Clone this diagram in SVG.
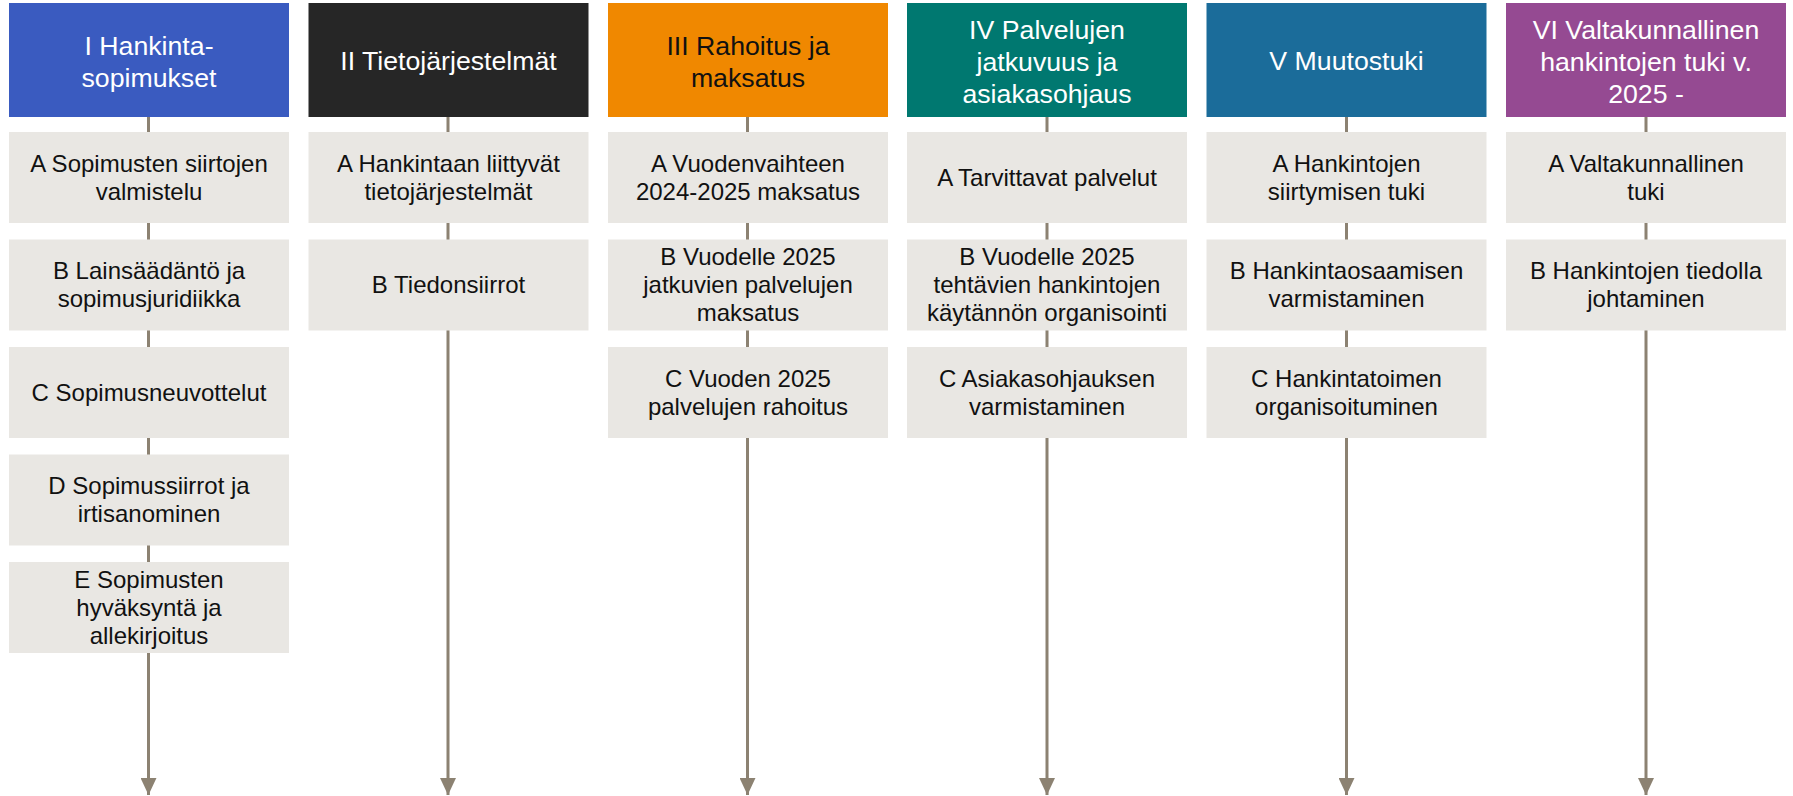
<svg xmlns="http://www.w3.org/2000/svg" width="1793" height="796" viewBox="0 0 1793 796">
<style>
.hdr{font-family:"Liberation Sans",Arial,sans-serif;font-size:26.7px;text-anchor:middle;fill:#ffffff}
.dark{fill:#111111}
.box{fill:#E9E7E3}
.bt{font-family:"Liberation Sans",Arial,sans-serif;font-size:24px;text-anchor:middle;fill:#111111}
.conn{stroke:#8C8272;stroke-width:3;fill:none}
</style>
<defs>
<marker id="arr" markerUnits="userSpaceOnUse" markerWidth="18" markerHeight="16" refX="17" refY="8" orient="auto">
<path d="M0,0 L17,8 L0,16 Z" fill="#8C8272"/>
</marker>
</defs>
<g id="connectors">
<line class="conn" x1="148.5" y1="117" x2="148.5" y2="795" marker-end="url(#arr)"/>
<line class="conn" x1="448" y1="117" x2="448" y2="795" marker-end="url(#arr)"/>
<line class="conn" x1="747.5" y1="117" x2="747.5" y2="795" marker-end="url(#arr)"/>
<line class="conn" x1="1047" y1="117" x2="1047" y2="795" marker-end="url(#arr)"/>
<line class="conn" x1="1346.5" y1="117" x2="1346.5" y2="795" marker-end="url(#arr)"/>
<line class="conn" x1="1646" y1="117" x2="1646" y2="795" marker-end="url(#arr)"/>
</g>
<g id="col1">
<g id="h1"><rect x="9" y="3" width="280" height="114" fill="#3A5BC0"/><text class="hdr" x="149"><tspan x="149" y="55">I Hankinta-</tspan><tspan x="149" y="87">sopimukset</tspan></text></g>
<g id="n1a"><rect class="box" x="9" y="132" width="280" height="91"/><text class="bt"><tspan x="149" y="171.5">A Sopimusten siirtojen</tspan><tspan x="149" y="199.5">valmistelu</tspan></text></g>
<g id="n1b"><rect class="box" x="9" y="239.5" width="280" height="91"/><text class="bt"><tspan x="149" y="279">B Lainsäädäntö ja</tspan><tspan x="149" y="307">sopimusjuridiikka</tspan></text></g>
<g id="n1c"><rect class="box" x="9" y="347" width="280" height="91"/><text class="bt"><tspan x="149" y="400.5">C Sopimusneuvottelut</tspan></text></g>
<g id="n1d"><rect class="box" x="9" y="454.5" width="280" height="91"/><text class="bt"><tspan x="149" y="494">D Sopimussiirrot ja</tspan><tspan x="149" y="522">irtisanominen</tspan></text></g>
<g id="n1e"><rect class="box" x="9" y="562" width="280" height="91"/><text class="bt"><tspan x="149" y="587.5">E Sopimusten</tspan><tspan x="149" y="615.5">hyväksyntä ja</tspan><tspan x="149" y="643.5">allekirjoitus</tspan></text></g>
</g>
<g id="col2">
<g id="h2"><rect x="308.5" y="3" width="280" height="114" fill="#262626"/><text class="hdr"><tspan x="448.5" y="70">II Tietojärjestelmät</tspan></text></g>
<g id="n2a"><rect class="box" x="308.5" y="132" width="280" height="91"/><text class="bt"><tspan x="448.5" y="171.5">A Hankintaan liittyvät</tspan><tspan x="448.5" y="199.5">tietojärjestelmät</tspan></text></g>
<g id="n2b"><rect class="box" x="308.5" y="239.5" width="280" height="91"/><text class="bt"><tspan x="448.5" y="293">B Tiedonsiirrot</tspan></text></g>
</g>
<g id="col3">
<g id="h3"><rect x="608" y="3" width="280" height="114" fill="#F08800"/><text class="hdr dark"><tspan x="748" y="55">III Rahoitus ja</tspan><tspan x="748" y="87">maksatus</tspan></text></g>
<g id="n3a"><rect class="box" x="608" y="132" width="280" height="91"/><text class="bt"><tspan x="748" y="171.5">A Vuodenvaihteen</tspan><tspan x="748" y="199.5">2024-2025 maksatus</tspan></text></g>
<g id="n3b"><rect class="box" x="608" y="239.5" width="280" height="91"/><text class="bt"><tspan x="748" y="265">B Vuodelle 2025</tspan><tspan x="748" y="293">jatkuvien palvelujen</tspan><tspan x="748" y="321">maksatus</tspan></text></g>
<g id="n3c"><rect class="box" x="608" y="347" width="280" height="91"/><text class="bt"><tspan x="748" y="386.5">C Vuoden 2025</tspan><tspan x="748" y="414.5">palvelujen rahoitus</tspan></text></g>
</g>
<g id="col4">
<g id="h4"><rect x="907" y="3" width="280" height="114" fill="#007870"/><text class="hdr"><tspan x="1047" y="38.5">IV Palvelujen</tspan><tspan x="1047" y="70.5">jatkuvuus ja</tspan><tspan x="1047" y="102.5">asiakasohjaus</tspan></text></g>
<g id="n4a"><rect class="box" x="907" y="132" width="280" height="91"/><text class="bt"><tspan x="1047" y="185.5">A Tarvittavat palvelut</tspan></text></g>
<g id="n4b"><rect class="box" x="907" y="239.5" width="280" height="91"/><text class="bt"><tspan x="1047" y="265">B Vuodelle 2025</tspan><tspan x="1047" y="293">tehtävien hankintojen</tspan><tspan x="1047" y="321">käytännön organisointi</tspan></text></g>
<g id="n4c"><rect class="box" x="907" y="347" width="280" height="91"/><text class="bt"><tspan x="1047" y="386.5">C Asiakasohjauksen</tspan><tspan x="1047" y="414.5">varmistaminen</tspan></text></g>
</g>
<g id="col5">
<g id="h5"><rect x="1206.5" y="3" width="280" height="114" fill="#1B6C9A"/><text class="hdr"><tspan x="1346.5" y="70">V Muutostuki</tspan></text></g>
<g id="n5a"><rect class="box" x="1206.5" y="132" width="280" height="91"/><text class="bt"><tspan x="1346.5" y="171.5">A Hankintojen</tspan><tspan x="1346.5" y="199.5">siirtymisen tuki</tspan></text></g>
<g id="n5b"><rect class="box" x="1206.5" y="239.5" width="280" height="91"/><text class="bt"><tspan x="1346.5" y="279">B Hankintaosaamisen</tspan><tspan x="1346.5" y="307">varmistaminen</tspan></text></g>
<g id="n5c"><rect class="box" x="1206.5" y="347" width="280" height="91"/><text class="bt"><tspan x="1346.5" y="386.5">C Hankintatoimen</tspan><tspan x="1346.5" y="414.5">organisoituminen</tspan></text></g>
</g>
<g id="col6">
<g id="h6"><rect x="1506" y="3" width="280" height="114" fill="#954A92"/><text class="hdr"><tspan x="1646" y="38.5">VI Valtakunnallinen</tspan><tspan x="1646" y="70.5">hankintojen tuki v.</tspan><tspan x="1646" y="102.5">2025 -</tspan></text></g>
<g id="n6a"><rect class="box" x="1506" y="132" width="280" height="91"/><text class="bt"><tspan x="1646" y="171.5">A Valtakunnallinen</tspan><tspan x="1646" y="199.5">tuki</tspan></text></g>
<g id="n6b"><rect class="box" x="1506" y="239.5" width="280" height="91"/><text class="bt"><tspan x="1646" y="279">B Hankintojen tiedolla</tspan><tspan x="1646" y="307">johtaminen</tspan></text></g>
</g>
</svg>
